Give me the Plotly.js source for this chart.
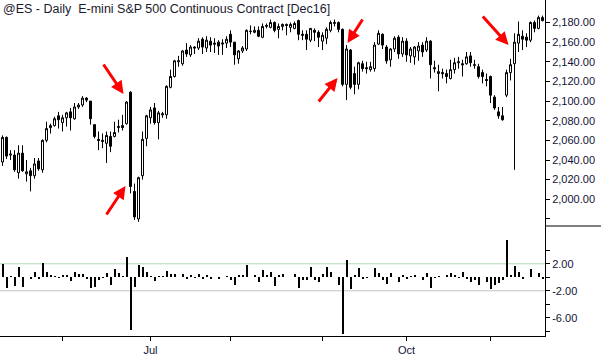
<!DOCTYPE html>
<html><head><meta charset="utf-8">
<script src="https://cdn.plot.ly/plotly-3.0.1.min.js"></script>
<style>html,body{margin:0;padding:0;background:#fff;}#chart{width:601px;height:355px;}</style>
</head><body><div id="chart"></div>
<script>
const dates = [
'2016-05-10','2016-05-11','2016-05-12','2016-05-13','2016-05-16','2016-05-17','2016-05-18','2016-05-19','2016-05-20','2016-05-23','2016-05-24','2016-05-25','2016-05-26','2016-05-27','2016-05-31',
'2016-06-01','2016-06-02','2016-06-03','2016-06-06','2016-06-07','2016-06-08','2016-06-09','2016-06-10','2016-06-13','2016-06-14','2016-06-15','2016-06-16','2016-06-17','2016-06-20','2016-06-21','2016-06-22','2016-06-23','2016-06-24','2016-06-27','2016-06-28','2016-06-29','2016-06-30',
'2016-07-01','2016-07-05','2016-07-06','2016-07-07','2016-07-08','2016-07-11','2016-07-12','2016-07-13','2016-07-14','2016-07-15','2016-07-18','2016-07-19','2016-07-20','2016-07-21','2016-07-22','2016-07-25','2016-07-26','2016-07-27','2016-07-28','2016-07-29',
'2016-08-01','2016-08-02','2016-08-03','2016-08-04','2016-08-05','2016-08-08','2016-08-09','2016-08-10','2016-08-11','2016-08-12','2016-08-15','2016-08-16','2016-08-17','2016-08-18','2016-08-19','2016-08-22','2016-08-23','2016-08-24','2016-08-25','2016-08-26','2016-08-29','2016-08-30','2016-08-31',
'2016-09-01','2016-09-02','2016-09-06','2016-09-07','2016-09-08','2016-09-09','2016-09-12','2016-09-13','2016-09-14','2016-09-15','2016-09-16','2016-09-19','2016-09-20','2016-09-21','2016-09-22','2016-09-23','2016-09-26','2016-09-27','2016-09-28','2016-09-29','2016-09-30',
'2016-10-03','2016-10-04','2016-10-05','2016-10-06','2016-10-07','2016-10-10','2016-10-11','2016-10-12','2016-10-13','2016-10-14','2016-10-17','2016-10-18','2016-10-19','2016-10-20','2016-10-21','2016-10-24','2016-10-25','2016-10-26','2016-10-27','2016-10-28','2016-10-31',
'2016-11-01','2016-11-02','2016-11-03','2016-11-04','2016-11-07','2016-11-08','2016-11-09','2016-11-10','2016-11-11','2016-11-14','2016-11-15','2016-11-16','2016-11-17','2016-11-18'];

const openP = [
2038,2063,2045,2045,2027,2047,2026,2029,2024,2039,
2030,2060,2073,2075,2085,2078,2083,2089,2082,2094,
2096,2103,2100,2076,2061,2060,2057,2064,2064,2073,
2075,2077,2109,2008,1980,2024,2062,2083,2093,2078,
2086,2086,2114,2125,2140,2138,2152,2147,2155,2154,
2163,2154,2161,2159,2160,2158,2159,2168,2160,2143,
2151,2153,2171,2170,2172,2165,2176,2175,2180,2173,
2176,2178,2175,2174,2182,2168,2168,2162,2172,2170,
2161,2164,2172,2179,2180,2173,2117,2152,2128,2117,
2138,2134,2132,2133,2158,2168,2155,2142,2153,2165,
2148,2161,2146,2145,2151,2157,2152,2161,2134,2128,
2129,2128,2123,2132,2139,2138,2138,2146,2137,2135,
2129,2122,2125,2104,2089,2085,2106,2129,2138,2159,
2166,2165,2162,2180,2174,2185];
const highP = [
2065,2064,2050,2050,2055,2055,2040,2032,2042,2042,
2061,2079,2077,2084,2089,2086,2089,2093,2098,2098,
2105,2104,2100,2076,2069,2067,2069,2069,2079,2081,
2086,2100,2110,2016,2023,2069,2086,2094,2098,2090,
2089,2116,2132,2142,2146,2152,2159,2157,2156,2164,
2165,2166,2165,2164,2162,2163,2166,2172,2160,2152,
2156,2173,2177,2176,2176,2179,2179,2183,2181,2179,
2179,2179,2180,2181,2183,2172,2172,2174,2174,2172,
2170,2175,2182,2183,2181,2174,2157,2153,2135,2140,
2141,2140,2140,2160,2172,2169,2157,2154,2166,2167,
2165,2164,2155,2156,2160,2160,2165,2162,2141,2137,
2133,2132,2142,2144,2145,2142,2150,2150,2142,2138,
2132,2128,2126,2106,2094,2094,2132,2143,2169,2181,
2172,2169,2181,2182,2187,2187];
const lowP = [
2034,2041,2040,2028,2021,2028,2018,2008,2021,2029,
2027,2058,2067,2074,2072,2069,2074,2070,2081,2092,
2094,2099,2076,2062,2050,2052,2037,2048,2063,2068,
2070,2076,2006,1979,1977,2020,2054,2077,2076,2061,
2083,2082,2113,2124,2135,2136,2145,2145,2148,2152,
2148,2150,2150,2149,2147,2147,2154,2155,2137,2138,
2149,2151,2168,2169,2165,2164,2174,2174,2170,2164,
2172,2167,2170,2173,2162,2162,2152,2160,2161,2155,
2152,2158,2170,2176,2170,2115,2101,2112,2107,2112,
2130,2128,2130,2130,2157,2153,2138,2135,2150,2143,
2145,2140,2139,2137,2141,2145,2150,2123,2129,2110,
2123,2118,2122,2128,2133,2125,2137,2135,2133,2123,
2118,2115,2098,2091,2082,2080,2104,2121,2030,2150,
2152,2155,2160,2170,2173,2181];
const closeP = [
2063,2044,2046,2030,2047,2029,2028,2024,2036,2031,
2060,2072,2075,2082,2081,2083,2088,2083,2094,2096,
2103,2101,2082,2064,2060,2059,2065,2054,2068,2074,
2073,2099,2013,1982,2022,2061,2085,2091,2078,2088,
2087,2115,2125,2141,2141,2151,2148,2155,2154,2161,
2155,2162,2157,2158,2156,2159,2163,2160,2147,2151,
2154,2172,2171,2172,2166,2176,2177,2180,2172,2176,
2178,2177,2178,2179,2168,2167,2163,2174,2170,2165,
2167,2173,2180,2180,2173,2117,2153,2114,2117,2139,
2133,2133,2135,2157,2169,2157,2141,2153,2164,2148,
2161,2147,2153,2155,2156,2150,2161,2137,2133,2130,
2128,2125,2132,2139,2140,2137,2145,2139,2136.5,2125,
2125,2121,2106,2093,2085,2081,2129,2137,2160,2168,
2163,2162,2180,2174,2185,2182];
const oscValues = [
1.9,-1.63,0.25,-1.24,1.58,-1.5,0.1,-0.2,0.84,-0.3,
2.17,0.84,0.35,0.25,-0.15,0.35,0.35,-0.5,0.84,0.5,
0.5,-0.3,-1.53,-1.43,-0.4,-0.15,0.6,-1.14,1.3,0.6,
0.2,2.96,-7.8,-1.39,1.83,1.58,0.75,0.2,-0.5,0.25,
0.15,1.0,0.45,0.45,0.1,0.5,-0.2,0.4,-0.1,0.5,
-0.3,0.3,-0.2,0.05,-0.2,0.1,0.2,-0.35,-1.14,0.35,
0.35,1.83,0.05,0.3,-0.64,1.1,0.3,0.84,-1.25,0.3,
0.45,0.05,0.1,0.45,-1.55,-0.4,-0.35,1.48,-0.4,-0.75,
0.44,1.58,0.84,0.1,-1.14,-8.45,2.56,-1.78,0.35,1.43,
-0.3,-0.05,0.1,1.43,0.6,-0.4,-1.0,0.6,0.1,-0.65,
0.35,-0.25,0.2,0.35,0.05,-0.4,0.6,-1.63,-0.05,0.25,
0.05,0.35,0.6,0.35,-0.15,0.84,-0.25,-0.65,-0.4,-1.14,
0.05,-0.65,-1.78,-1.14,-0.89,-0.4,5.5,0.35,1.67,0.84,
-0.25,0.05,1.23,0.05,0.59,-0.25];

const monthTickDates = ['2016-06-01','2016-07-01','2016-08-01','2016-09-01','2016-10-03','2016-11-01'];
const monthTickText = ['','Jul','','','Oct',''];
const priceTickVals = [1980,2000,2020,2040,2060,2080,2100,2120,2140,2160,2180];
const priceTickText = ['','2,000.00','2,020.00','2,040.00','2,060.00','2,080.00','2,100.00','2,120.00','2,140.00','2,160.00','2,180.00'];
const oscTickVals = [2,-2,-6];
const oscTickText = ['2.00','-2.00','-6.00'];
const oscMinorVals = [4,0,-4,-8];
const titleText = '@ES - Daily\u00a0 E-mini S&P 500 Continuous Contract [Dec16]';

const labelColor = '#121236';
const tickFont = {family:'Liberation Sans, Arial, sans-serif', size:11, color:labelColor};
const split = 110/336;

const candles = {
  type:'candlestick', x:dates, open:openP, high:highP, low:lowP, close:closeP,
  xaxis:'x', yaxis:'y',
  increasing:{line:{color:'#000', width:1}, fillcolor:'#ffffff'},
  decreasing:{line:{color:'#000', width:1}, fillcolor:'#000000'},
  whiskerwidth:0, hoverinfo:'skip', showlegend:false
};
const osc = {
  type:'bar', x:dates, y:oscValues, xaxis:'x', yaxis:'y2',
  marker:{color:'#000', line:{width:0}}, width:0.5, hoverinfo:'skip', showlegend:false
};

function arrow(x, y, ax, ay){
  return {x:x, y:y, xref:'x', yref:'y', ax:ax, ay:ay, text:'', showarrow:true,
    arrowhead:2, arrowsize:0.85, arrowwidth:3, arrowcolor:'#ff0000', standoff:0};
}

const layout = {
  width:601, height:355,
  margin:{l:0, r:56, t:0, b:19, pad:0},
  paper_bgcolor:'#fff', plot_bgcolor:'#fff',
  showlegend:false, hovermode:false, dragmode:false,
  bargap:0, boxgap:0.5, boxgroupgap:0,
  xaxis:{type:'category', range:[-0.625,135.625], anchor:'y2',
    tickmode:'array', tickvals:monthTickDates, ticktext:monthTickText,
    ticks:'outside', ticklen:4, tickcolor:'#000', tickwidth:1,
    showline:true, linecolor:'#000', linewidth:1, showgrid:false, zeroline:false,
    tickfont:tickFont, rangeslider:{visible:false}, fixedrange:true},
  yaxis:{domain:[split,1], range:[1972.8,2202.9], side:'right', anchor:'x',
    tickmode:'array', tickvals:priceTickVals, ticktext:priceTickText,
    ticks:'outside', ticklen:4, tickcolor:'#000', tickwidth:1,
    showline:true, linecolor:'#000', linewidth:1, showgrid:false, zeroline:false,
    tickfont:tickFont, fixedrange:true},
  yaxis2:{domain:[0,split], range:[-8.7,7.6], side:'right', anchor:'x',
    tickmode:'array', tickvals:oscTickVals, ticktext:oscTickText,
    ticks:'outside', ticklen:4, tickcolor:'#000', tickwidth:1,
    minor:{tickmode:'array', tickvals:oscMinorVals, ticks:'outside', ticklen:4, tickcolor:'#000', showgrid:false},
    showline:true, linecolor:'#000', linewidth:1, showgrid:false, zeroline:false,
    tickfont:tickFont, fixedrange:true},
  shapes:[
    {type:'line', xref:'paper', yref:'y2', x0:0, x1:1, y0:2, y1:2, line:{color:'#b0dab0', width:1}, layer:'below'},
    {type:'line', xref:'paper', yref:'y2', x0:0, x1:1, y0:-2, y1:-2, line:{color:'#c2c2c2', width:1}, layer:'below'},
    {type:'line', xref:'paper', yref:'paper', x0:1, x1:1.11, y0:split, y1:split, line:{color:'#000', width:1}}
  ],
  annotations:[
    {xref:'paper', yref:'paper', x:0.002, y:1, xanchor:'left', yanchor:'top', text:titleText, showarrow:false,
     font:{family:'Liberation Sans, Arial, sans-serif', size:12.5, color:'#1a1a2e'}},
    arrow(30.25, 2107.2, -21, -31),
    arrow(30.75, 2013.5, -20, 30),
    arrow(86.25, 2159.1, 16, -25),
    arrow(83.75, 2123.5, -20, 25),
    arrow(126.5, 2157.1, -27, -30)
  ]
};

Plotly.newPlot('chart', [candles, osc], layout, {staticPlot:true, displayModeBar:false});
</script>
</body></html>
